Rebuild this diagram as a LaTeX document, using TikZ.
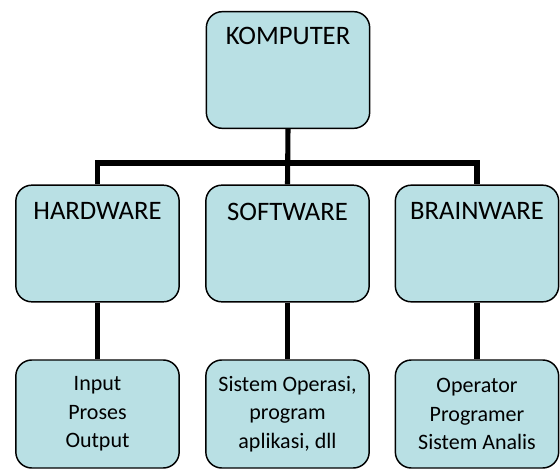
\documentclass[tikz,border=0pt]{standalone}
\usepackage{fontspec}
\setmainfont{Carlito}
\definecolor{boxfill}{RGB}{185,224,228}
\tikzset{
  box/.style={draw=black, line width=1.1pt, fill=boxfill, rounded corners=12pt,
    minimum width=122.5pt, inner sep=0pt},
  tall/.style={box, minimum height=87.5pt},
  short/.style={box, minimum height=81pt},
  title/.style={anchor=north, inner sep=0pt, font=\fontsize{20}{24}\selectfont},
  body/.style={align=center, inner sep=0pt, font=\fontsize{16.5}{21.5}\selectfont},
  conn/.style={line width=3.8pt, line join=miter}
}
\begin{document}
\begin{tikzpicture}[x=0.75pt,y=-0.75pt]
\useasboundingbox (0,0) rectangle (560,470);
% boxes
\node[tall] (komp) at (288,70) {};
\node[tall] (hw) at (97.5,243.5) {};
\node[tall] (sw) at (287.5,243.5) {};
\node[tall] (bw) at (477,243.5) {};
\node[short] (hwl) at (97.5,414) {};
\node[short] (swl) at (287.5,414) {};
\node[short] (bwl) at (477,414) {};
% connectors
\coordinate (bus) at (288,163);
\draw[conn] (komp.south) -- (sw.north);
\draw[conn] (hw.north) |- (bus) -| (bw.north);
\draw[conn] (hw.south) -- (hwl.north);
\draw[conn] (sw.south) -- (swl.north);
\draw[conn] (bw.south) -- (bwl.north);
% titles
\node[title] (tk) at ([yshift=-12pt]komp.north) {KOMPUTER};
\node[title] (th) at ([yshift=-13.5pt]hw.north) {HARDWARE};
\node[title] (ts) at ([yshift=-13.5pt]sw.north) {SOFTWARE};
\node[title] (tb) at ([yshift=-13.5pt]bw.north) {BRAINWARE};
% bodies
\node[body] (bh) at (hwl.center) {Input\\Proses\\Output};
\node[body] (bs) at (swl.center) {Sistem Operasi,\\program\\aplikasi, dll};
\node[body] (bb) at (bwl.center) {Operator\\Programer\\Sistem Analis};
\end{tikzpicture}
\end{document}
